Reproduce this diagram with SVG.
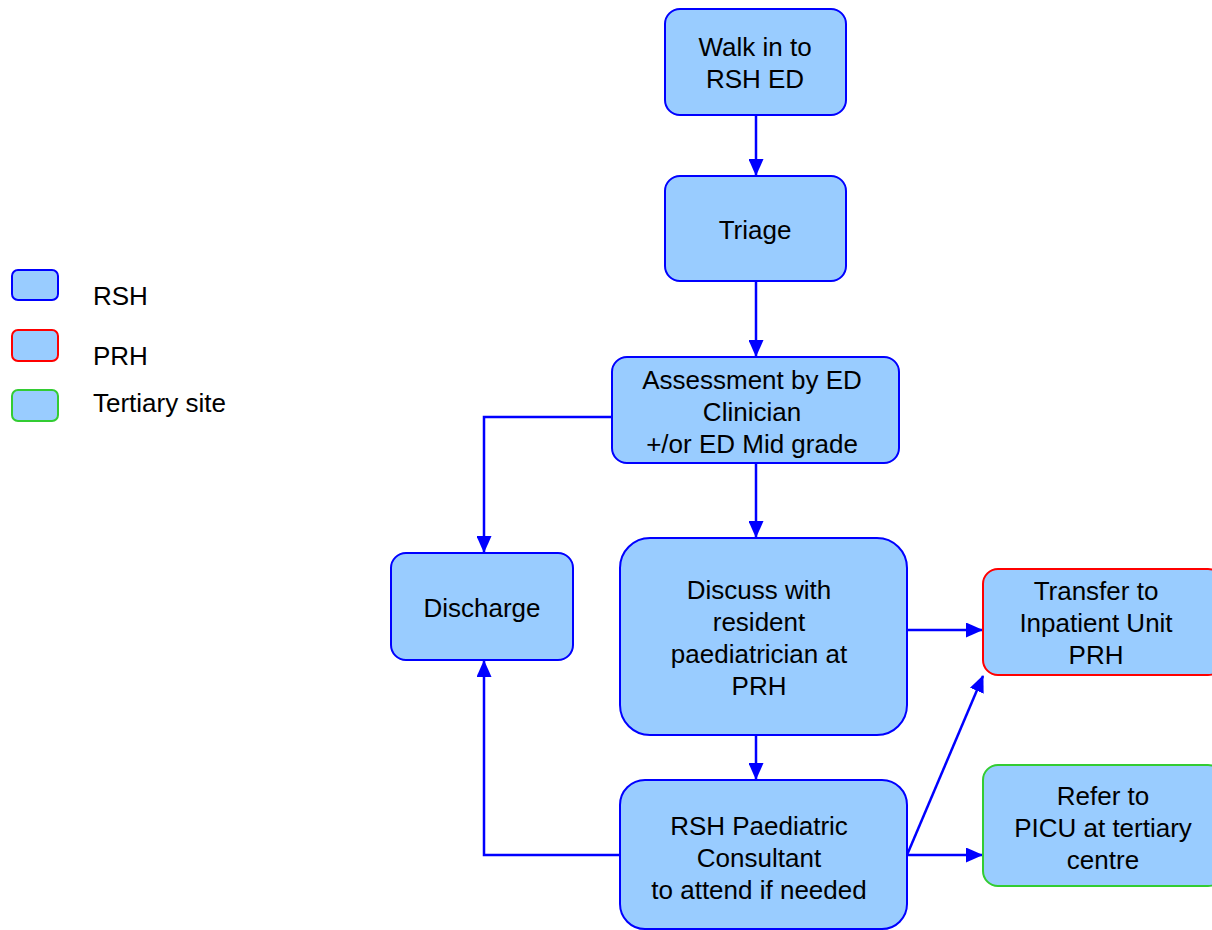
<svg xmlns="http://www.w3.org/2000/svg" width="1212" height="930" viewBox="0 0 1212 930">
<style>
.n{fill:#99ccff;stroke-width:2}
.b{stroke:#0000ff}.r{stroke:#ff0000}.g{stroke:#33cc33}
text{font-family:"Liberation Sans",Arial,sans-serif;font-size:26px;fill:#000;text-anchor:middle}
.l{text-anchor:start}
.c{fill:none;stroke:#0000ff;stroke-width:2.5}
</style>
<defs>
<marker id="a" markerWidth="17" markerHeight="15" refX="16" refY="7.5" orient="auto" markerUnits="userSpaceOnUse">
<path d="M0,0 L17,7.5 L0,15 Z" fill="#0000ff"/>
</marker>
</defs>
<g id="legend">
<rect class="n b" x="12" y="270" width="46" height="30" rx="6"/>
<text class="l" x="93" y="305">RSH</text>
<rect class="n r" x="12" y="330" width="46" height="31" rx="6"/>
<text class="l" x="93" y="365">PRH</text>
<rect class="n g" x="12" y="390" width="46" height="31" rx="6"/>
<text class="l" x="93" y="412">Tertiary site</text>
</g>
<g id="connectors">
<path class="c" d="M756,115 V175" marker-end="url(#a)"/>
<path class="c" d="M756,281 V356" marker-end="url(#a)"/>
<path class="c" d="M756,463 V537" marker-end="url(#a)"/>
<path class="c" d="M612,417 H484 V552" marker-end="url(#a)"/>
<path class="c" d="M756,735 V779" marker-end="url(#a)"/>
<path class="c" d="M620,855 H484 V661" marker-end="url(#a)"/>
<path class="c" d="M907,630 H982" marker-end="url(#a)"/>
<path class="c" d="M907,855 L983,676" marker-end="url(#a)"/>
<path class="c" d="M907,855 H982" marker-end="url(#a)"/>
</g>
<g id="walkin">
<rect class="n b" x="665" y="9" width="181" height="106" rx="15"/>
<text x="755" y="56">Walk in to</text>
<text x="755" y="88">RSH ED</text>
</g>
<g id="triage">
<rect class="n b" x="665" y="176" width="181" height="105" rx="15"/>
<text x="755" y="239">Triage</text>
</g>
<g id="assessment">
<rect class="n b" x="612" y="357" width="287" height="106" rx="15"/>
<text x="752" y="389">Assessment by ED</text>
<text x="752" y="421">Clinician</text>
<text x="752" y="453">+/or ED Mid grade</text>
</g>
<g id="discharge">
<rect class="n b" x="391" y="553" width="182" height="107" rx="15"/>
<text x="482" y="617">Discharge</text>
</g>
<g id="discuss">
<rect class="n b" x="620" y="538" width="287" height="197" rx="30"/>
<text x="759" y="599">Discuss with</text>
<text x="759" y="631">resident</text>
<text x="759" y="663">paediatrician at</text>
<text x="759" y="695">PRH</text>
</g>
<g id="consultant">
<rect class="n b" x="620" y="780" width="287" height="149" rx="25"/>
<text x="759" y="835">RSH Paediatric</text>
<text x="759" y="867">Consultant</text>
<text x="759" y="899">to attend if needed</text>
</g>
<g id="transfer">
<rect class="n r" x="983" y="569" width="240" height="106" rx="15"/>
<text x="1096" y="600">Transfer to</text>
<text x="1096" y="632">Inpatient Unit</text>
<text x="1096" y="664">PRH</text>
</g>
<g id="refer">
<rect class="n g" x="983" y="765" width="240" height="121" rx="15"/>
<text x="1103" y="805">Refer to</text>
<text x="1103" y="837">PICU at tertiary</text>
<text x="1103" y="869">centre</text>
</g>
</svg>
